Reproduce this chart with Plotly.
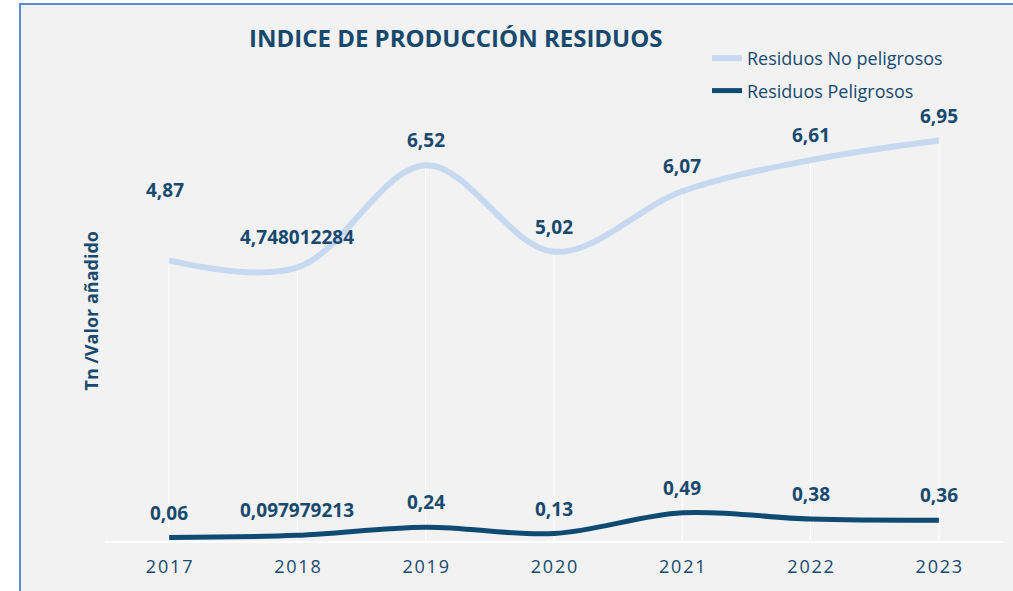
import plotly.graph_objects as go

years = ["2017", "2018", "2019", "2020", "2021", "2022", "2023"]
no_peligrosos = [4.87, 4.748012284, 6.52, 5.02, 6.07, 6.61, 6.95]
peligrosos = [0.06, 0.097979213, 0.24, 0.13, 0.49, 0.38, 0.36]
no_pel_labels = ["4,87", "4,748012284", "6,52", "5,02", "6,07", "6,61", "6,95"]
pel_labels = ["0,06", "0,097979213", "0,24", "0,13", "0,49", "0,38", "0,36"]

LIGHT = "#c6d9f0"
DARK = "#0f4a73"
TXT = "#17496e"
FONT = "Open Sans"
HS = "\u200a"

fig = go.Figure()

# drop lines (white) from the upper series to the axis
dx, dy = [], []
for i, v in enumerate(no_peligrosos):
    dx += [i, i, None]
    dy += [0, v, None]
fig.add_trace(go.Scatter(x=dx, y=dy, mode="lines", line=dict(color="white", width=1),
                         showlegend=False, hoverinfo="skip"))

fig.add_trace(go.Scatter(x=list(range(len(years))), y=no_peligrosos, mode="lines",
                         name="Residuos No peligrosos", legendgroup="a",
                         line=dict(color=LIGHT, width=6, shape="spline", smoothing=1)))
fig.add_trace(go.Scatter(x=list(range(len(years))), y=peligrosos, mode="lines",
                         name="Residuos Peligrosos", legendgroup="b",
                         line=dict(color=DARK, width=5, shape="spline", smoothing=1)))

annotations = []
for i, (v, t) in enumerate(zip(no_peligrosos, no_pel_labels)):
    ys, xs = 25, 0
    if i == 0:
        ys, xs = 70, -4
    elif i == 1:
        ys = 30
    annotations.append(dict(x=i, y=v, text=t, showarrow=False, xref="x", yref="y",
                            yanchor="middle", xanchor="center", yshift=ys, xshift=xs,
                            font=dict(family=FONT, size=19, color=TXT, weight="bold")))
for i, (v, t) in enumerate(zip(peligrosos, pel_labels)):
    annotations.append(dict(x=i, y=v, text=t, showarrow=False, xref="x", yref="y",
                            yanchor="middle", xanchor="center", yshift=25,
                            font=dict(family=FONT, size=19, color=TXT, weight="bold")))

annotations.append(dict(x=-0.0156, y=0.5, xref="paper", yref="paper", text="Tn /Valor añadido",
                        textangle=-90, showarrow=False, xanchor="center", yanchor="middle",
                        font=dict(family=FONT, size=18, color=TXT, weight="bold")))
annotations.append(dict(x=(456 - 105) / 898, y=(541 - 37) / 461, xref="paper", yref="paper",
                        text="INDICE DE PRODUCCIÓN RESIDUOS", showarrow=False,
                        xanchor="center", yanchor="middle",
                        font=dict(family=FONT, size=24, color=TXT, weight="bold")))

fig.update_layout(
    width=1013, height=591,
    margin=dict(l=105, r=10, t=80, b=50),
    paper_bgcolor="white",
    plot_bgcolor="rgba(0,0,0,0)",
    annotations=annotations,
    shapes=[dict(type="rect", xref="paper", yref="paper",
                 x0=(20 - 105) / 898, x1=1.5, y0=-0.5, y1=(541 - 4) / 461,
                 fillcolor="#f2f2f2", line=dict(color="#5b8bd0", width=2), layer="below")],
    legend=dict(x=(707 - 105) / 898, y=(541 - 40) / 461, xanchor="left", yanchor="top",
                bgcolor="rgba(0,0,0,0)", traceorder="grouped", tracegroupgap=6,
                font=dict(family=FONT, size=18, color=TXT)),
    showlegend=True,
)
fig.update_xaxes(range=[-0.5, 6.5], tickmode="array", tickvals=list(range(len(years))),
                 ticktext=[HS.join(y) for y in years], showgrid=False, zeroline=False,
                 showline=True, linecolor="white", linewidth=2, ticks="outside", ticklen=8,
                 tickcolor="rgba(0,0,0,0)",
                 tickfont=dict(family=FONT, size=18, color=TXT))
fig.update_yaxes(range=[0, 8], showgrid=False, zeroline=False, showticklabels=False,
                 showline=False)

fig.write_html("out.html", config={"displayModeBar": False},
               post_script="document.body.style.margin='0';")
